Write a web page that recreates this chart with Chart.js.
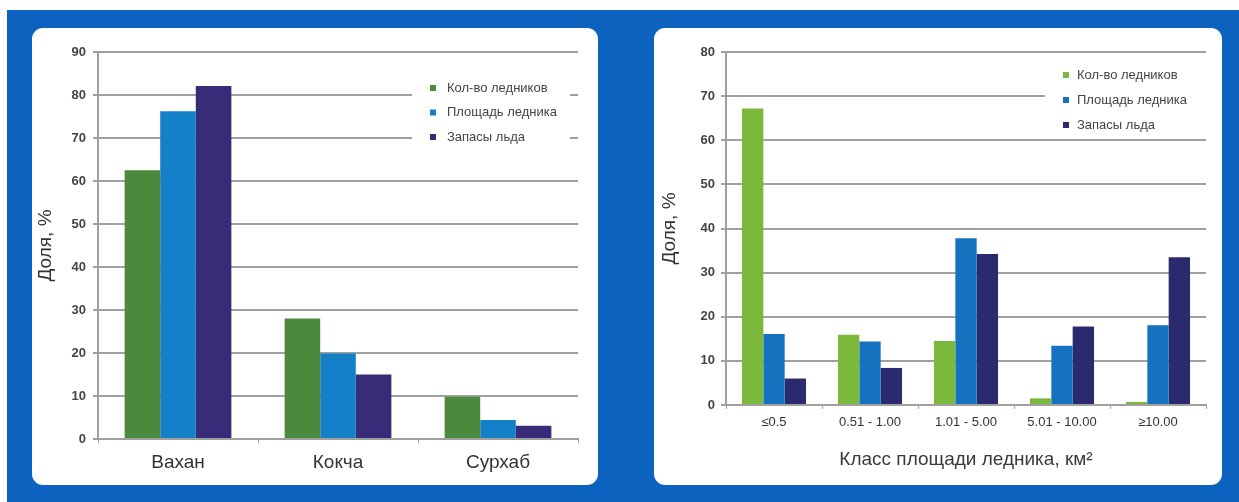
<!DOCTYPE html>
<html>
<head>
<meta charset="utf-8">
<script src="https://cdn.jsdelivr.net/npm/chart.js@4.4.1/dist/chart.umd.min.js"></script>
<style>
  html, body { margin: 0; padding: 0; background: #fff; width: 1239px; height: 502px; overflow: hidden; }
  #frame { position: absolute; left: 7px; top: 10px; width: 1232px; height: 492px; background: #0b63bf; }
  .panel { position: absolute; top: 28px; width: 566px; height: 457px; background: #fff; border-radius: 11px; overflow: hidden; }
  canvas { display: block; }
</style>
</head>
<body>
<div id="frame"></div>
<div class="panel" style="left:32px"><canvas id="basins" width="566" height="457"></canvas></div>
<div class="panel" style="left:654px;width:568px"><canvas id="classes" width="568" height="457"></canvas></div>
<script>
// Shares (%) by river basin
const basins = ['Вахан', 'Кокча', 'Сурхаб'];
const basinCount = [62.5, 28.0, 9.8];
const basinArea = [76.2, 19.9, 4.4];
const basinIce = [82.1, 15.0, 3.1];

// Shares (%) by glacier size class
const sizeClasses = ['≤0.5', '0.51 - 1.00', '1.01 - 5.00', '5.01 - 10.00', '≥10.00'];
const classCount = [67.2, 15.9, 14.5, 1.5, 0.7];
const classArea = [16.1, 14.4, 37.8, 13.4, 18.1];
const classIce = [6.0, 8.4, 34.2, 17.8, 33.5];

const seriesNames = ['Кол-во ледников', 'Площадь ледника', 'Запасы льда'];

const FONT = "'Liberation Sans', Arial, sans-serif";
const GRID = '#a0a0a0';

// Legend drawn inside the plot on a white patch that hides the gridlines behind it
const insetLegend = {
  id: 'insetLegend',
  afterDraw(chart, args, o) {
    const ctx = chart.ctx;
    ctx.save();
    ctx.fillStyle = '#fff';
    ctx.fillRect(o.x, o.y, o.w, o.h);
    ctx.font = '13px ' + FONT;
    ctx.textBaseline = 'middle';
    ctx.textAlign = 'left';
    chart.data.datasets.forEach((ds, i) => {
      const cy = o.firstRow + i * o.rowGap;
      ctx.fillStyle = ds.backgroundColor;
      ctx.fillRect(o.markerX, cy - 3, 6, 6);
      ctx.fillStyle = '#444';
      ctx.fillText(ds.label, o.textX, cy);
    });
    ctx.restore();
  }
};

function buildChart(id, labels, series, colors, s) {
  return new Chart(document.getElementById(id), {
    type: 'bar',
    data: {
      labels: labels,
      datasets: series.map((vals, i) => ({
        label: seriesNames[i],
        data: vals,
        backgroundColor: colors[i],
        borderWidth: 0,
        categoryPercentage: 0.667,
        barPercentage: 1.0
      }))
    },
    plugins: [insetLegend],
    options: {
      responsive: false,
      animation: false,
      devicePixelRatio: 1,
      layout: { padding: { left: 0, top: 24, right: s.padRight, bottom: 0 } },
      plugins: {
        legend: { display: false },
        tooltip: { enabled: false },
        insetLegend: s.legend
      },
      scales: {
        x: {
          grid: { display: true, drawOnChartArea: false, offset: true, tickLength: 4, color: GRID, lineWidth: 1 },
          border: { display: true, color: GRID, width: 2 },
          ticks: { color: '#333', font: { family: FONT, size: s.xFont }, padding: s.xPad, maxRotation: 0, autoSkip: false },
          title: s.xTitle,
          afterFit(scale) { scale.height = s.xHeight; }
        },
        y: {
          min: 0,
          max: s.yMax,
          ticks: { stepSize: 10, color: '#444', font: { family: FONT, size: 13, weight: 'bold' }, padding: s.yPad },
          grid: { color: GRID, lineWidth: 2, tickLength: 5 },
          border: { display: true, color: GRID, width: 2 },
          title: { display: true, text: 'Доля, %', color: '#333', font: { family: FONT, size: 19 }, padding: { top: s.yTitlePad, bottom: 0 } },
          afterFit(scale) { scale.width = s.yWidth; }
        }
      }
    }
  });
}

buildChart('basins', basins, [basinCount, basinArea, basinIce],
  ['#4b8a3c', '#1380c7', '#372c78'],
  {
    padRight: 20, yMax: 90, yWidth: 66, yPad: 7, yTitlePad: 2,
    xHeight: 46, xFont: 19, xPad: 8,
    xTitle: { display: false },
    legend: { x: 380, y: 40, w: 158, h: 84, markerX: 398, textX: 415, firstRow: 60, rowGap: 24.5 }
  });

buildChart('classes', sizeClasses, [classCount, classArea, classIce],
  ['#7bb83c', '#1672be', '#2c2a6e'],
  {
    padRight: 16, yMax: 80, yWidth: 72, yPad: 6, yTitlePad: 4,
    xHeight: 80, xFont: 13, xPad: 6,
    xTitle: { display: true, text: 'Класс площади ледника, км²', color: '#3a3a3a', font: { family: FONT, size: 19 }, padding: { top: 0, bottom: 14 } },
    legend: { x: 391, y: 34, w: 164, h: 74, markerX: 409, textX: 423, firstRow: 47, rowGap: 25 }
  });
</script>
</body>
</html>
